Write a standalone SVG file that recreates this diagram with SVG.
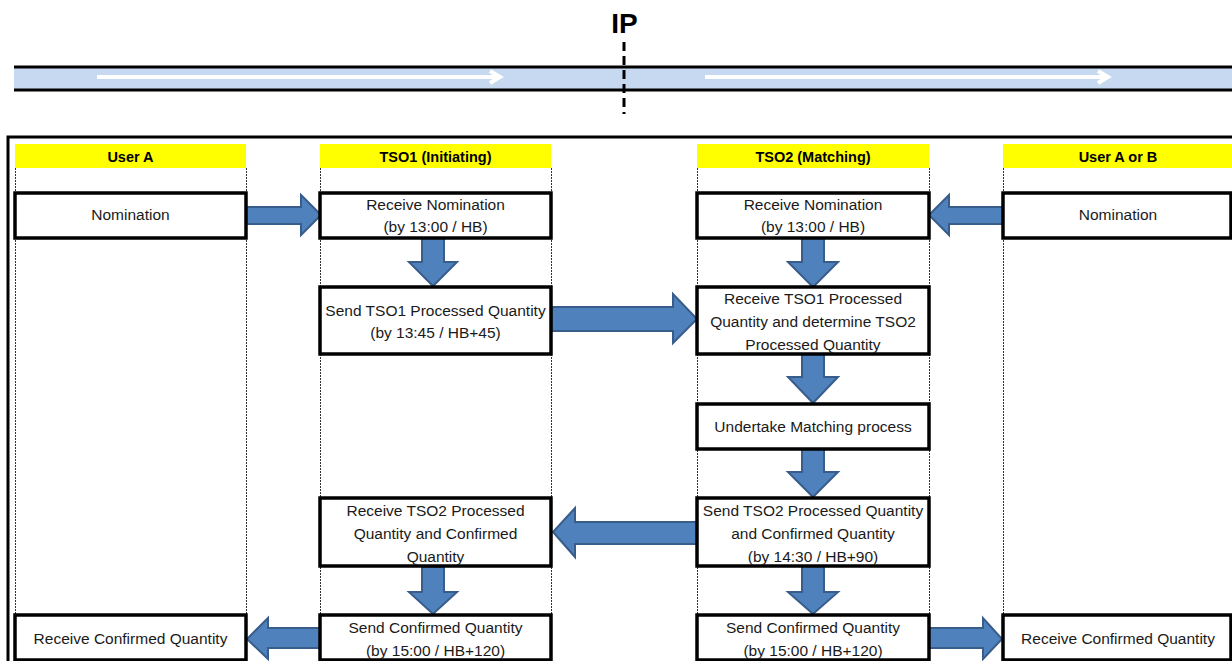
<svg xmlns="http://www.w3.org/2000/svg" width="1232" height="661" viewBox="0 0 1232 661">
<style>
.t{font-family:"Liberation Sans",Arial,sans-serif;font-size:15.5px;fill:#1a1a1a;text-anchor:middle}
.h{font-family:"Liberation Sans",Arial,sans-serif;font-size:14.5px;font-weight:bold;fill:#000;text-anchor:middle}
.box{fill:#fff;stroke:#000;stroke-width:3.5}
.hdr{fill:#ffff00}
.dot{stroke:#333;stroke-width:1;stroke-dasharray:2 1}
.arr{fill:#4f81bd;stroke:#385d8a;stroke-width:2;stroke-linejoin:miter}
.pipe{stroke:#000;stroke-width:3}
.wa{fill:none;stroke:#fff;stroke-width:4}
</style>
<rect width="1232" height="661" fill="#fff"/>
<g id="pipeline">
<rect x="14" y="67" width="1220" height="23" fill="#c6d9f1"/>
<line class="pipe" x1="14" y1="67" x2="1234" y2="67"/>
<line class="pipe" x1="14" y1="90" x2="1234" y2="90"/>
<path class="wa" d="M97 77H500M490 71L500 77L490 83"/>
<path class="wa" d="M705 77H1108M1098 71L1108 77L1098 83"/>
<line x1="624" y1="42" x2="624" y2="114" stroke="#000" stroke-width="3" stroke-dasharray="9 5"/>
<text x="624.5" y="33" font-family="Liberation Sans,Arial,sans-serif" font-size="28" font-weight="bold" text-anchor="middle">IP</text>
</g>
<rect x="8" y="137" width="1240" height="540" fill="none" stroke="#000" stroke-width="3"/>
<g id="lanes">
<rect class="hdr" x="15" y="144" width="231" height="24"/>
<rect class="hdr" x="320" y="144" width="231" height="24"/>
<rect class="hdr" x="697" y="144" width="232" height="24"/>
<rect class="hdr" x="1003" y="144" width="232" height="24"/>
<text class="h" x="130.5" y="162">User A</text>
<text class="h" x="435.5" y="162">TSO1 (Initiating)</text>
<text class="h" x="813" y="162">TSO2 (Matching)</text>
<text class="h" x="1118" y="162">User A or B</text>
<line class="dot" x1="15.5" y1="168" x2="15.5" y2="661"/>
<line class="dot" x1="246.5" y1="168" x2="246.5" y2="661"/>
<line class="dot" x1="320.5" y1="168" x2="320.5" y2="661"/>
<line class="dot" x1="551.5" y1="168" x2="551.5" y2="661"/>
<line class="dot" x1="697.5" y1="168" x2="697.5" y2="661"/>
<line class="dot" x1="929.5" y1="168" x2="929.5" y2="661"/>
<line class="dot" x1="1003.5" y1="168" x2="1003.5" y2="661"/>
</g>
<g id="connectors">
<polygon class="arr" points="246,207 301,207 301,195 321,215 301,235 301,224 246,224"/>
<polygon class="arr" points="1003,207 949,207 949,195 929,215 949,235 949,224 1003,224"/>
<polygon class="arr" points="422,238 444,238 444,262 457,262 433,286 409,262 422,262"/>
<polygon class="arr" points="552,307 673,307 673,294 697,319 673,343 673,331 552,331"/>
<polygon class="arr" points="802,238 824,238 824,262 838,262 813,287 788,262 802,262"/>
<polygon class="arr" points="802,354 824,354 824,377 838,377 813,403 788,377 802,377"/>
<polygon class="arr" points="802,449 824,449 824,472 838,472 813,497 788,472 802,472"/>
<polygon class="arr" points="697,522 575,522 575,508 553,532 575,557 575,544 697,544"/>
<polygon class="arr" points="422,567 444,567 444,592 457,592 433,614 409,592 422,592"/>
<polygon class="arr" points="802,566 824,566 824,592 838,592 813,614 788,592 802,592"/>
<polygon class="arr" points="320,628 268,628 268,618 247,639 268,659 268,648 320,648"/>
<polygon class="arr" points="929,628 983,628 983,618 1002,639 983,659 983,648 929,648"/>
</g>
<g id="nomA"><rect class="box" x="15" y="193" width="231" height="45"/><text class="t" x="130.5" y="220">Nomination</text></g>
<g id="recvNom1"><rect class="box" x="320" y="193" width="231" height="45"/><text class="t" x="435.5" y="210">Receive Nomination</text><text class="t" x="435.5" y="232">(by 13:00 / HB)</text></g>
<g id="recvNom2"><rect class="box" x="697" y="193" width="232" height="45"/><text class="t" x="813" y="210">Receive Nomination</text><text class="t" x="813" y="232">(by 13:00 / HB)</text></g>
<g id="nomB"><rect class="box" x="1003" y="193" width="228" height="45"/><text class="t" x="1118" y="220">Nomination</text></g>
<g id="sendTSO1"><rect class="box" x="320" y="287" width="231" height="67"/><text class="t" x="435.5" y="316">Send TSO1 Processed Quantity</text><text class="t" x="435.5" y="338">(by 13:45 / HB+45)</text></g>
<g id="recvTSO1"><rect class="box" x="697" y="287" width="232" height="67"/><text class="t" x="813" y="304">Receive TSO1 Processed</text><text class="t" x="813" y="327">Quantity and determine TSO2</text><text class="t" x="813" y="350">Processed Quantity</text></g>
<g id="matching"><rect class="box" x="697" y="404" width="232" height="45"/><text class="t" x="813" y="432">Undertake Matching process</text></g>
<g id="sendTSO2"><rect class="box" x="697" y="498" width="232" height="68"/><text class="t" x="813" y="516">Send TSO2 Processed Quantity</text><text class="t" x="813" y="539">and Confirmed Quantity</text><text class="t" x="813" y="562">(by 14:30 / HB+90)</text></g>
<g id="recvTSO2"><rect class="box" x="320" y="498" width="231" height="68"/><text class="t" x="435.5" y="516">Receive TSO2 Processed</text><text class="t" x="435.5" y="539">Quantity and Confirmed</text><text class="t" x="435.5" y="562">Quantity</text></g>
<g id="sendConf1"><rect class="box" x="320" y="615" width="231" height="45"/><text class="t" x="435.5" y="633">Send Confirmed Quantity</text><text class="t" x="435.5" y="656">(by 15:00 / HB+120)</text></g>
<g id="sendConf2"><rect class="box" x="697" y="615" width="232" height="45"/><text class="t" x="813" y="633">Send Confirmed Quantity</text><text class="t" x="813" y="656">(by 15:00 / HB+120)</text></g>
<g id="recvConfA"><rect class="box" x="15" y="615" width="231" height="45"/><text class="t" x="130.5" y="644">Receive Confirmed Quantity</text></g>
<g id="recvConfB"><rect class="box" x="1003" y="615" width="228" height="45"/><text class="t" x="1118" y="644">Receive Confirmed Quantity</text></g>
</svg>
